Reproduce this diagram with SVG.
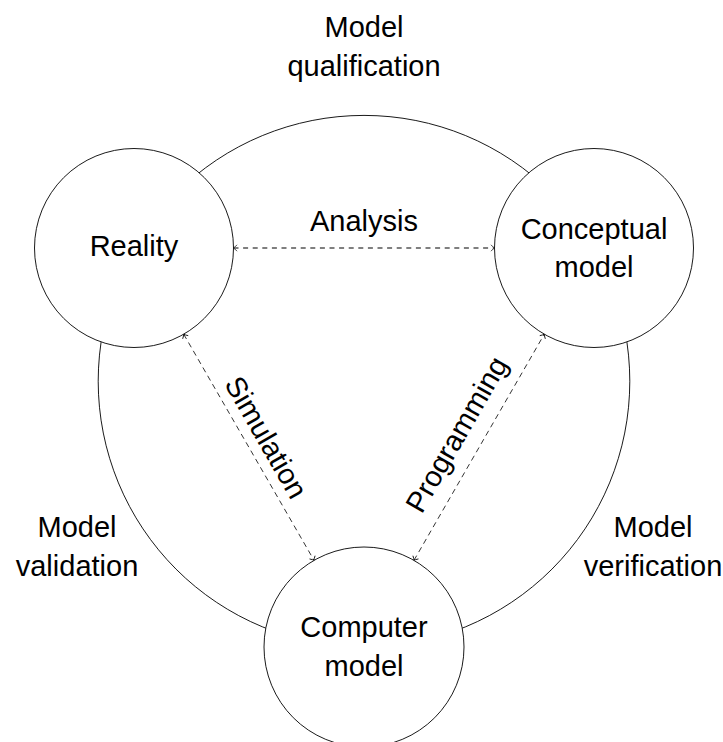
<svg xmlns="http://www.w3.org/2000/svg" width="723" height="742" viewBox="0 0 723 742">
  <style>
    .node { fill: #ffffff; stroke: #000000; stroke-width: 0.9; }
    .big { fill: none; stroke: #000000; stroke-width: 0.9; }
    .lbl { font-family: "Liberation Sans", Arial, sans-serif; font-size: 29px; fill: #000000; text-anchor: middle; }
    .dash { fill: none; stroke: #000000; stroke-width: 0.8; stroke-dasharray: 5.5 4.1; }
    .dashg { fill: none; stroke: #555555; stroke-width: 1.5; stroke-dasharray: 5 4.6; }
  </style>
  <defs>
    <marker id="ah" markerUnits="userSpaceOnUse" viewBox="-6 -5 8 10" markerWidth="8" markerHeight="10" refX="0" refY="0" orient="auto-start-reverse">
      <path d="M -3.5 -3.2 Q -1.2 -0.6 0 0 Q -1.2 0.6 -3.5 3.2" fill="none" stroke="#000000" stroke-width="0.8"/>
    </marker>
    <marker id="ahg" markerUnits="userSpaceOnUse" viewBox="-6 -5 8 10" markerWidth="8" markerHeight="10" refX="0" refY="0" orient="auto-start-reverse">
      <path d="M -3.5 -3.2 Q -1.2 -0.6 0 0 Q -1.2 0.6 -3.5 3.2" fill="none" stroke="#333333" stroke-width="0.9"/>
    </marker>
  </defs>

  <g id="cycle">
    <circle class="big" cx="364" cy="381.2" r="265.8"/>
  </g>

  <g id="cycle-labels">
    <text class="lbl" x="364" y="36.7">Model</text>
    <text class="lbl" x="364" y="76">qualification</text>
    <text class="lbl" x="77" y="536.7">Model</text>
    <text class="lbl" x="77" y="576">validation</text>
    <text class="lbl" x="653" y="536.7">Model</text>
    <text class="lbl" x="653" y="576">verification</text>
  </g>

  <g id="connectors">
    <line class="dashg" x1="233.5" y1="248" x2="494.5" y2="248" marker-start="url(#ahg)" marker-end="url(#ahg)"/>
    <text class="lbl" x="364" y="231">Analysis</text>
    <line class="dash" x1="183.7" y1="334.2" x2="314.05" y2="560.36" marker-start="url(#ah)" marker-end="url(#ah)"/>
    <text class="lbl" transform="translate(248.9,447.3) rotate(60.04)" x="0" y="-10">Simulation</text>
    <line class="dash" x1="413.95" y1="560.36" x2="544.3" y2="334.2" marker-start="url(#ah)" marker-end="url(#ah)"/>
    <text class="lbl" transform="translate(479.1,447.3) rotate(-60.04)" x="0" y="-16">Programming</text>
  </g>

  <g id="reality">
    <circle class="node" cx="134" cy="248" r="99.5"/>
    <text class="lbl" x="134" y="255.7">Reality</text>
  </g>

  <g id="conceptual-model">
    <circle class="node" cx="594" cy="248" r="99.5"/>
    <text class="lbl" x="594" y="239.3">Conceptual</text>
    <text class="lbl" x="594" y="277">model</text>
  </g>

  <g id="computer-model">
    <circle class="node" cx="364" cy="647" r="100"/>
    <text class="lbl" x="364" y="637.3">Computer</text>
    <text class="lbl" x="364" y="676">model</text>
  </g>
</svg>
